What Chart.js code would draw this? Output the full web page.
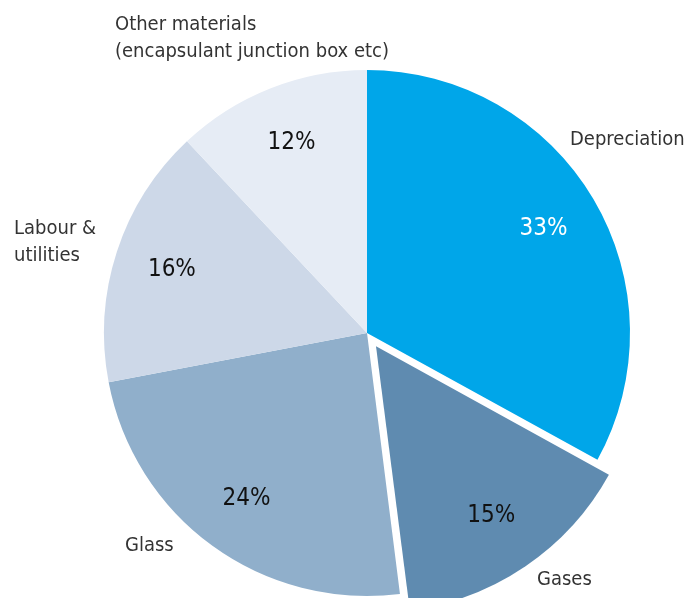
<!DOCTYPE html>
<html>
<head>
<meta charset="utf-8">
<script src="https://cdn.jsdelivr.net/npm/chart.js@4/dist/chart.umd.min.js"></script>
<style>
  html, body { margin: 0; padding: 0; background: #ffffff; }
  #wrap { width: 694px; height: 598px; position: relative; }
</style>
</head>
<body>
<div id="wrap"><canvas id="c" width="694" height="598"></canvas></div>
<script>
// Solar module cost breakdown
const categories = ['Depreciation', 'Gases', 'Glass', 'Labour & utilities', 'Other materials (encapsulant junction box etc)'];
const shares = [33, 15, 24, 16, 12];
const sliceColors = ['#00A6E9', '#5F8BB0', '#90AFCB', '#CDD8E8', '#E6ECF5'];
const valueTextColors = ['#ffffff', '#111111', '#111111', '#111111', '#111111'];
// pulled-out distance of each slice, in pixels
const explode = [0, 16, 0, 0, 0];

const FONT = '"Liberation Sans Narrow", "DejaVu Sans Condensed", sans-serif';

// Outer category captions, split into lines, positioned relative to the pie centre
const captionLines = [
  ['Depreciation'],
  ['Gases'],
  ['Glass'],
  ['Labour &', 'utilities'],
  ['Other materials', '(encapsulant junction box etc)']
];
const captionAnchor = [
  { dx: 203, dy: -193 },
  { dx: 170, dy: 247 },
  { dx: -242, dy: 213 },
  { dx: -353, dy: -104 },
  { dx: -252, dy: -308 }
];

const labelPlugin = {
  id: 'sliceLabels',
  afterDatasetsDraw(chart) {
    const ctx = chart.ctx;
    const meta = chart.getDatasetMeta(0);
    const first = meta.data[0];
    const cx = first.x, cy = first.y;
    ctx.save();
    ctx.textBaseline = 'middle';
    meta.data.forEach((arc, i) => {
      const p = arc.getProps(['x', 'y', 'startAngle', 'endAngle', 'outerRadius'], true);
      const mid = (p.startAngle + p.endAngle) / 2;
      const r = p.outerRadius * 0.78;
      const x = p.x + Math.cos(mid) * (r + explode[i]);
      const y = p.y + Math.sin(mid) * (r + explode[i]);
      ctx.font = '24px ' + FONT;
      ctx.fillStyle = valueTextColors[i];
      ctx.textAlign = 'center';
      ctx.fillText(shares[i] + '%', x, y);

      const a = captionAnchor[i];
      ctx.font = '20px ' + FONT;
      ctx.fillStyle = '#333333';
      ctx.textAlign = 'left';
      captionLines[i].forEach((line, k) => {
        ctx.fillText(line, cx + a.dx, cy + a.dy + k * 27);
      });
    });
    ctx.restore();
  }
};

new Chart(document.getElementById('c'), {
  type: 'pie',
  data: {
    labels: categories,
    datasets: [{
      data: shares,
      backgroundColor: sliceColors,
      borderWidth: 0,
      // Chart.js translates an arc by offset / 4
      offset: explode.map(v => v * 4),
      radius: 263
    }]
  },
  options: {
    responsive: false,
    animation: false,
    layout: { padding: { left: 40, right: 0, top: 68, bottom: 0 } },
    plugins: {
      legend: { display: false },
      tooltip: { enabled: false }
    }
  },
  plugins: [labelPlugin]
});
</script>
</body>
</html>
